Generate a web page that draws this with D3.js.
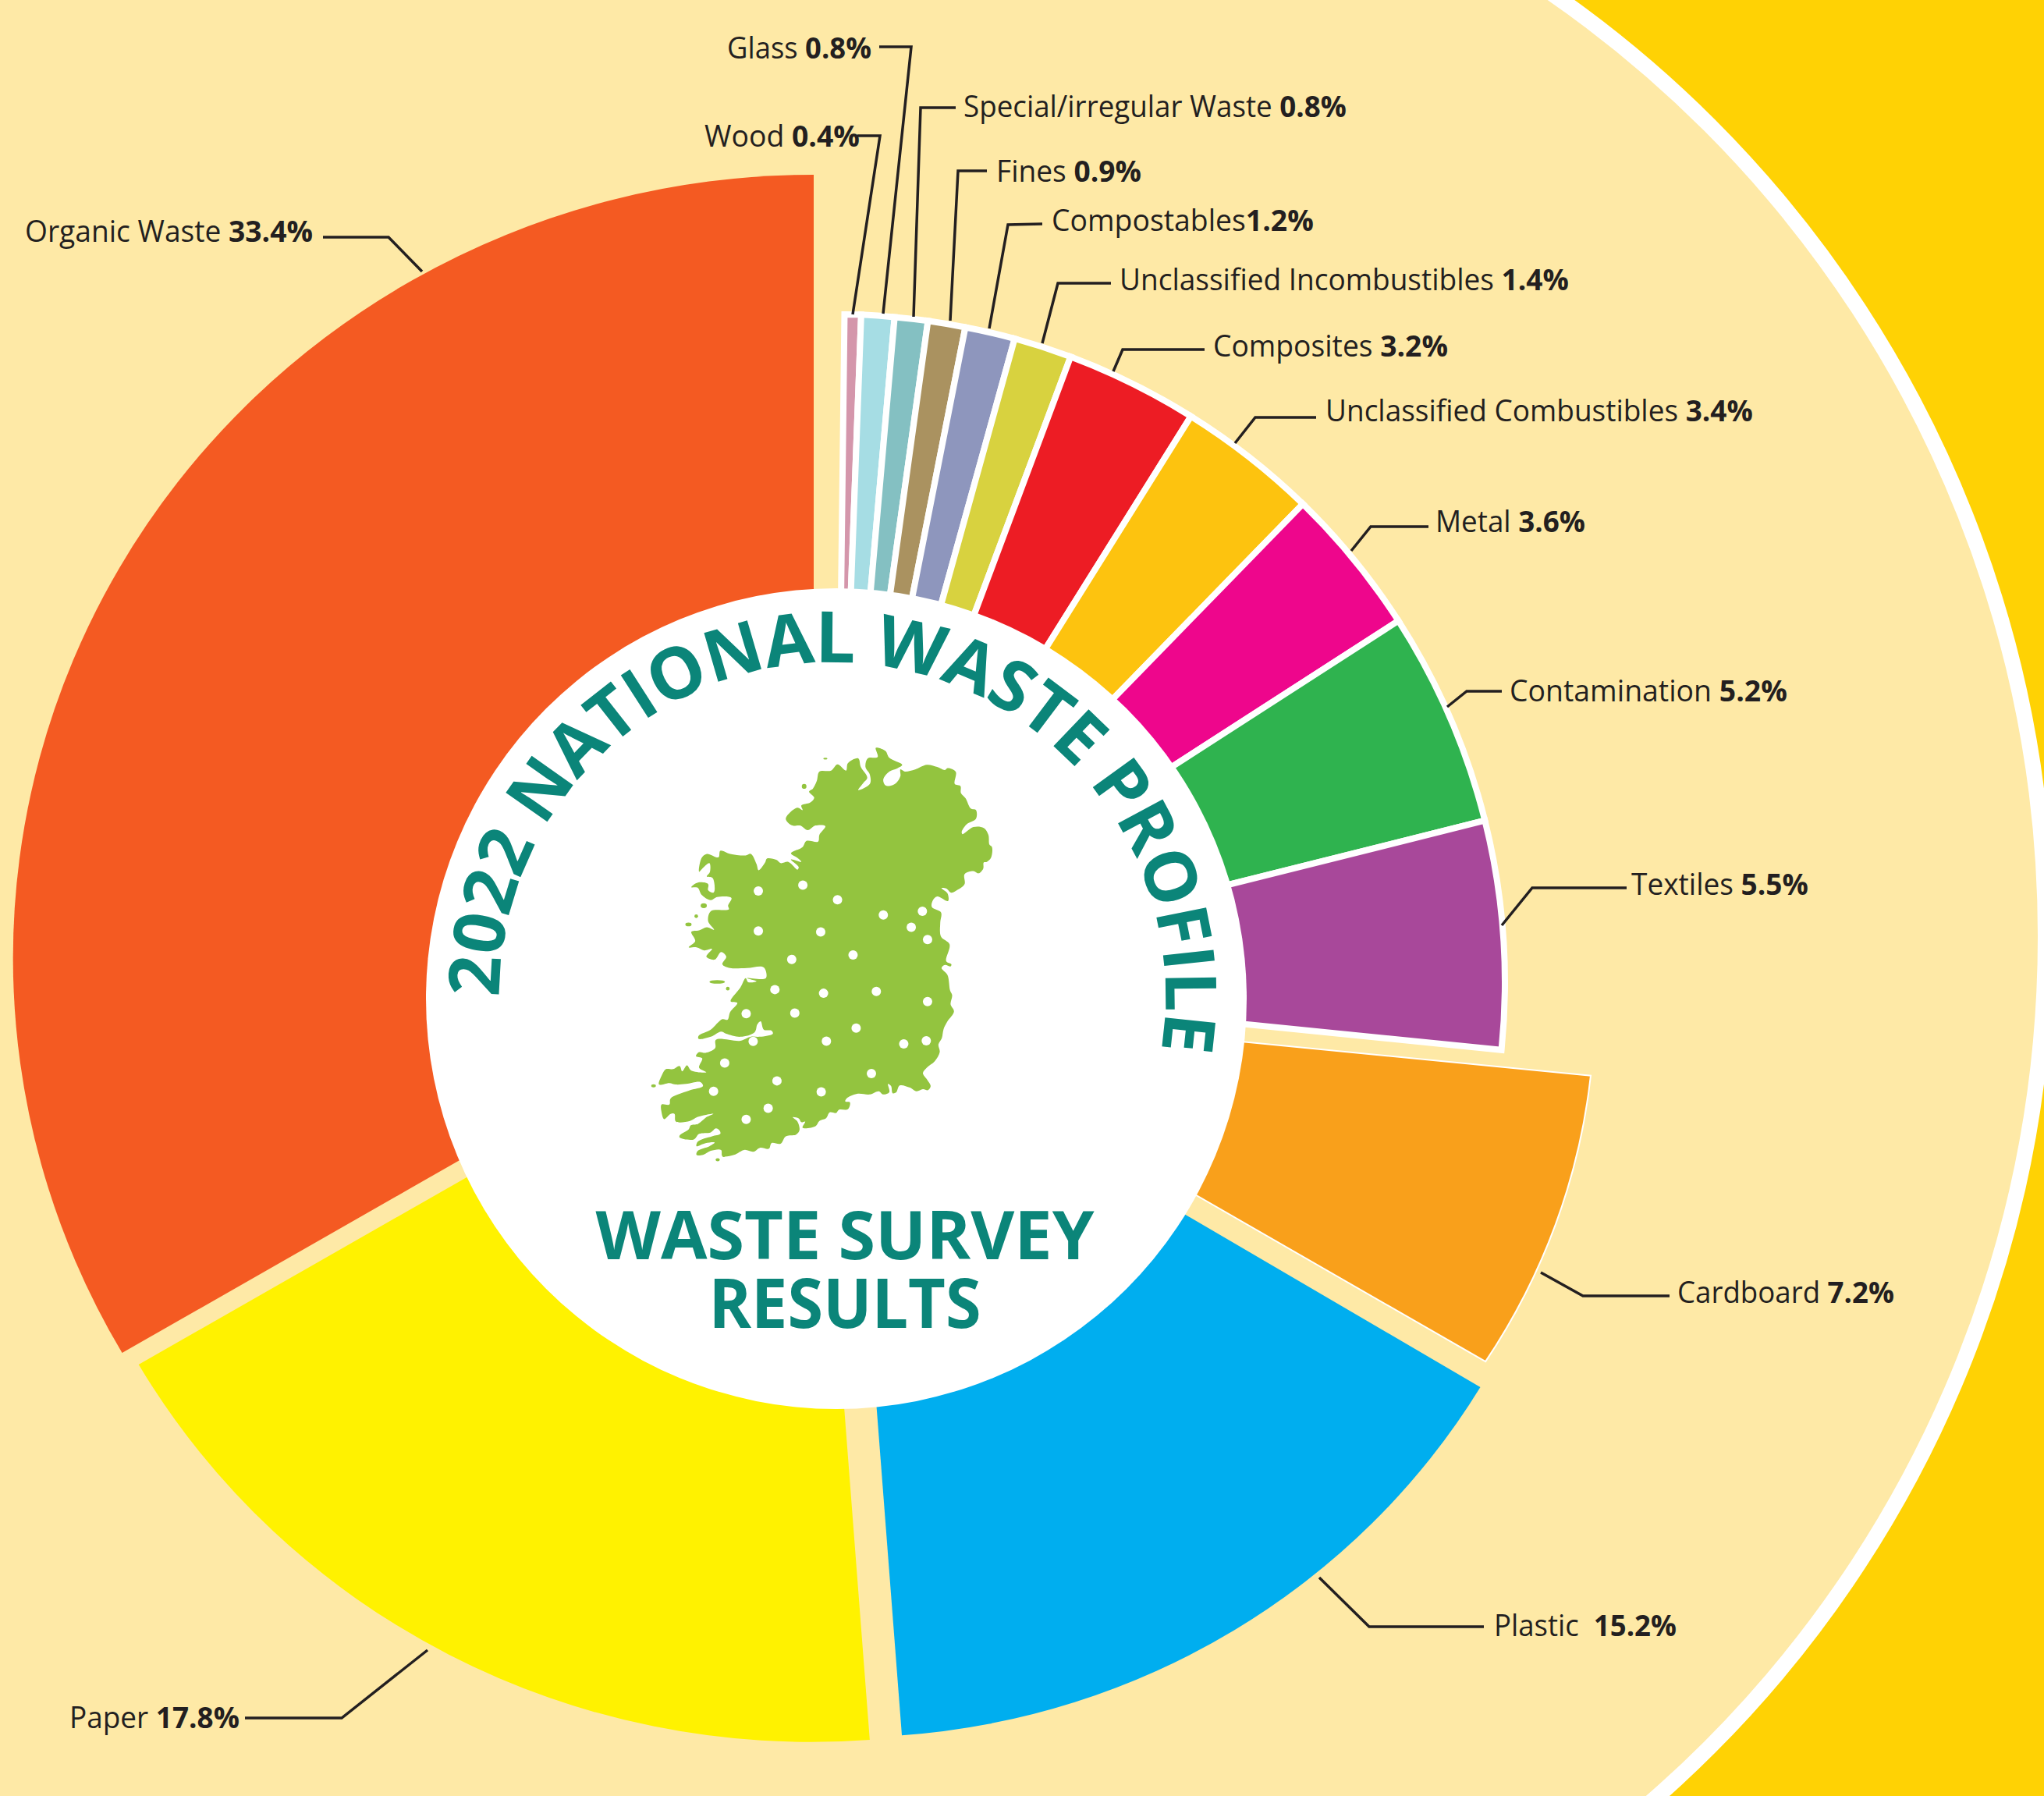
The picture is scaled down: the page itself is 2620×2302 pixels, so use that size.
<!DOCTYPE html>
<html>
<head>
<meta charset="utf-8">
<title>2022 National Waste Profile</title>
<script src="https://cdn.jsdelivr.net/npm/d3@7"></script>
<style>
  html, body { margin: 0; padding: 0; background: #FFD204; }
  svg { display: block; }
  .lbl { font-family: "Open Sans", sans-serif; fill: #231F20; white-space: pre; }
  .head { font-family: "Open Sans", sans-serif; font-weight: 700; fill: #0B8579; }
</style>
</head>
<body>
<svg width="2620" height="2302"></svg>
<script>
// clockwise from 12 o'clock, same order as the pie
var categories = ["Wood", "Glass", "Special/irregular Waste", "Fines", "Compostables",
    "Unclassified Incombustibles", "Composites", "Unclassified Combustibles", "Metal",
    "Contamination", "Textiles", "Cardboard", "Plastic", "Paper", "Organic Waste"];
var values = [0.4, 0.8, 0.8, 0.9, 1.2, 1.4, 3.2, 3.4, 3.6, 5.2, 5.5, 7.2, 15.2, 17.8, 33.4];
var colours = ["#D496AB", "#A6DDE4", "#84C0C2", "#AA9260", "#8E96BD", "#D8D23F", "#ED1C24",
    "#FDC30F", "#EE068C", "#2FB34F", "#A8489A", "#F9A01B", "#00AEEF", "#FFF200", "#F45A22"];
// text between name and value, the reference isn't consistent here
var separators = [" ", " ", " ", " ", "", " ", " ", " ", " ", " ", " ", " ", "  ", " ", " "];

// exploded slices: each of the 4 big ones has its own centre and radii,
// the artwork is a bit stretched so rx and ry differ
var sliceCx = [1072, 1072, 1072, 1072, 1072, 1072, 1072, 1072, 1072, 1072, 1072, 1109, 1085, 1040, 1043];
var sliceCy = [1260, 1260, 1260, 1260, 1260, 1260, 1260, 1260, 1260, 1260, 1260, 1288, 1303, 1257, 1228];
var sliceRx = [857, 857, 857, 857, 857, 857, 857, 857, 857, 857, 857, 935, 947, 998, 1026];
var sliceRy = [857, 857, 857, 857, 857, 857, 857, 857, 857, 857, 857, 865, 924, 976, 1004];
var sliceRot = [0.7, 0.7, 0.7, 0.7, 0.7, 0.7, 0.7, 0.7, 0.7, 0.7, 0.7, 0.9, 0, 0, 0];
var sliceStroke = [8, 8, 8, 8, 8, 8, 8, 8, 8, 8, 8, 2, 0, 0, 0];

// leader lines and label boxes, [x, y] in page pixels
var leaders = [
    [[1099, 174], [1128, 174], [1093, 403]],
    [[1127, 60], [1168, 60], [1132, 402]],
    [[1225, 138], [1180, 138], [1171, 406]],
    [[1265, 219], [1228, 219], [1218, 411]],
    [[1336, 287], [1292, 288], [1268, 421]],
    [[1424, 363], [1356, 363], [1336, 440]],
    [[1544, 448], [1439, 448], [1427, 476]],
    [[1687, 535], [1609, 535], [1583, 568]],
    [[1831, 675], [1757, 675], [1732, 706]],
    [[1925, 886], [1880, 886], [1855, 906]],
    [[2085, 1138], [1964, 1138], [1925, 1186]],
    [[2140, 1661], [2029, 1661], [1975, 1631]],
    [[1902, 2085], [1755, 2085], [1691, 2022]],
    [[314, 2202], [438, 2202], [548, 2115]],
    [[414, 304], [498, 304], [541, 348]]
];
var labelLeft = [903, 932, 1235, 1277, 1348, 1435, 1555, 1699, 1840, 1935, 2091, 2150, 1915, 89, 32];
var labelRight = [1102, 1117, 1726, 1463, 1684, 2011, 1856, 2247, 2032, 2291, 2318, 2428, 2149, 307, 401];
var labelBase = [188, 75, 150, 233, 296, 372, 457, 540, 682, 899, 1147, 1670, 2097, 2215, 310];

var ringTitle = "2022 NATIONAL WASTE PROFILE";
var subTitle = ["WASTE SURVEY", "RESULTS"];

// map of Ireland, traced in a 3.015 x 2.53 scaled space, see mapX/mapY
var irelandOutline = [
    [1033,148],[1070,158],[1085,180],[1135,203],[1115,215],[1085,225],[1062,250],[1068,268],[1085,272],[1112,262],[1128,240],[1128,218],
    [1145,225],[1185,218],[1230,203],[1270,210],[1300,220],[1310,214],[1342,226],[1338,265],[1360,272],[1362,295],[1380,312],[1400,345],
    [1420,350],[1420,378],[1385,395],[1365,420],[1368,428],[1410,405],[1450,408],[1468,430],[1472,462],[1482,470],[1478,505],[1462,518],
    [1450,520],[1448,540],[1430,555],[1410,548],[1376,558],[1376,590],[1350,608],[1325,618],[1305,604],[1287,603],[1310,620],[1312,645],
    [1270,630],[1252,645],[1250,665],[1285,682],[1282,715],[1285,760],[1318,785],[1305,840],[1325,850],[1322,857],[1300,852],[1287,862],
    [1310,885],[1320,935],[1328,950],[1322,980],[1335,1003],[1310,1035],[1295,1060],[1288,1090],[1275,1110],[1280,1135],[1260,1165],
    [1230,1185],[1215,1203],[1232,1225],[1245,1245],[1235,1258],[1215,1255],[1190,1262],[1165,1250],[1125,1243],[1112,1265],[1098,1268],
    [1092,1245],[1080,1238],[1085,1265],[1060,1272],[1045,1262],[1010,1272],[960,1270],[920,1285],[915,1295],[933,1298],[925,1320],
    [890,1322],[880,1332],[855,1330],[840,1350],[815,1358],[800,1375],[750,1380],[760,1360],[745,1362],[735,1350],[712,1346],[730,1360],
    [738,1388],[725,1402],[685,1408],[665,1432],[630,1430],[620,1448],[585,1445],[560,1458],[525,1452],[485,1468],[440,1472],[435,1452],
    [395,1455],[365,1468],[340,1468],[345,1455],[390,1440],[410,1428],[375,1430],[340,1440],[345,1425],[400,1408],[432,1400],[430,1390],
    [415,1382],[395,1395],[350,1400],[330,1418],[275,1412],[275,1405],[310,1385],[318,1372],[345,1368],[380,1345],[405,1335],[345,1345],
    [315,1358],[260,1360],[255,1335],[240,1335],[215,1352],[205,1330],[205,1305],[235,1305],[240,1285],[310,1260],[365,1245],[355,1232],
    [300,1238],[260,1240],[235,1235],[195,1240],[205,1212],[222,1190],[250,1190],[275,1180],[285,1197],[303,1178],[320,1195],[378,1200],
    [350,1185],[362,1155],[338,1148],[350,1135],[375,1137],[412,1122],[415,1095],[510,1098],[550,1085],[585,1085],[635,1075],[630,1065],
    [600,1062],[588,1035],[575,1045],[565,1070],[510,1085],[455,1075],[435,1068],[395,1085],[348,1092],[348,1082],[395,1062],[440,1028],
    [460,1030],[470,1005],[498,975],[472,970],[510,925],[530,895],[540,908],[572,905],[535,895],[608,895],[600,860],[535,862],[470,862],
    [440,850],[455,825],[435,810],[410,835],[378,825],[400,800],[370,805],[340,795],[310,795],[335,775],[320,745],[350,740],[380,730],
    [408,738],[385,710],[395,678],[465,672],[462,660],[475,635],[420,632],[395,642],[360,625],[345,602],[320,600],[345,585],[385,590],
    [385,610],[405,618],[410,610],[402,570],[380,565],[392,550],[390,522],[362,540],[350,550],[360,505],[380,492],[425,503],[432,482],
    [470,492],[530,497],[550,492],[572,525],[580,545],[605,520],[612,507],[650,512],[665,522],[695,518],[730,543],[735,535],[705,510],
    [745,518],[730,505],[705,490],[750,470],[765,450],[810,452],[815,430],[838,402],[800,400],[770,415],[740,400],[710,400],[685,378],
    [730,342],[750,350],[745,335],[780,325],[795,310],[775,290],[790,280],[805,255],[815,225],[860,222],[885,202],[918,222],[925,198],
    [965,182],[975,210],[1000,245],[985,262],[965,285],[1010,265],[1010,235],[993,210],[1002,182],[1040,178]
];
var irelandIslands = [[838,183,8,3],[756,273,9,8],[368,660,12,8],[339,694,7,6],[309,721,12,6],[461,929,7,6],[174,1244,9,5],[422,1484,8,5],[445,1472,5,3],[420,907,30,6]];
var irelandDots = [[579,612],[751,593],[885,641],[1062,690],[1213,678],[1170,730],[1233,770],[579,742],[820,745],[708,834],[945,820],
    [643,932],[831,944],[1035,938],[1233,971],[532,1010],[720,1008],[957,1057],[559,1100],[842,1099],[1141,1108],[1228,1098],[449,1170],
    [651,1228],[1016,1204],[406,1262],[822,1264],[617,1317],[532,1353]];

var svg = d3.select("svg");
var CREAM = "#FEE9A6", YELLOW = "#FFD204";

// background: yellow page, big cream disc with a white ring, left side is all cream
svg.append("rect").attr("width", 2620).attr("height", 2302).attr("fill", YELLOW);
svg.append("circle").attr("cx", 1152).attr("cy", 1200).attr("r", 1470)
    .attr("fill", CREAM).attr("stroke", "#fff").attr("stroke-width", 20);
svg.append("rect").attr("width", 1152).attr("height", 2302).attr("fill", CREAM);

// pie, sort(null) keeps the order of the arrays. Unit radius, the transform sizes it
var pie = d3.pie().sort(null).value(function(d) { return d; });
var arcs = pie(values);
var arc = d3.arc().innerRadius(0).outerRadius(1);

svg.append("g").selectAll("path")
    .data(arcs)
    .enter().append("path")
    .attr("transform", function(d, i) {
        return "translate(" + sliceCx[i] + "," + sliceCy[i] + ") rotate(" + sliceRot[i] + ") scale(" + sliceRx[i] + "," + sliceRy[i] + ")";
    })
    .attr("d", arc)
    .attr("fill", function(d, i) { return colours[i]; })
    .attr("stroke", "#fff")
    .attr("vector-effect", "non-scaling-stroke")
    .attr("stroke-width", function(d, i) { return sliceStroke[i]; })
    .attr("stroke-linejoin", "miter");

// white hub on top hides the slice apexes
svg.append("circle").attr("cx", 1072).attr("cy", 1280).attr("r", 526).attr("fill", "#fff");

// leader lines
var line = d3.line();
svg.append("g").selectAll("path")
    .data(leaders)
    .enter().append("path")
    .attr("d", function(d) { return line(d); })
    .attr("fill", "none")
    .attr("stroke", "#231F20")
    .attr("stroke-width", 3.5);

// labels: squeeze each one horizontally to its measured width in the reference
var lblG = svg.append("g");
categories.forEach(function(name, i) {
    var t = lblG.append("text").attr("class", "lbl").attr("font-size", 38);
    t.append("tspan").text(name + separators[i]);
    t.append("tspan").attr("font-weight", 700).text(values[i].toFixed(1) + "%");
    var sx = (labelRight[i] - labelLeft[i]) / t.node().getComputedTextLength();
    t.attr("transform", "translate(" + labelLeft[i] + "," + labelBase[i] + ") scale(" + sx + ",1)");
});

// curved title, letter-spacing picked so the text fills the angle range
var ringCx = 1067, ringCy = 1276, ringR = 427;
var startA = -Math.PI / 2 - 0.005, endA = 99.5 * Math.PI / 180;
var p = d3.path();
p.arc(ringCx, ringCy, ringR, startA - Math.PI / 2, startA - Math.PI / 2 + 1.9 * Math.PI);
svg.append("defs").append("path").attr("id", "ringPath").attr("d", p.toString());

var ring = svg.append("text").attr("class", "head").attr("font-size", 91);
ring.append("textPath").attr("href", "#ringPath").text(ringTitle);
var wanted = ringR * (endA - startA);
var natural = ring.node().getComputedTextLength();
ring.attr("letter-spacing", (wanted - natural) / (ringTitle.length - 1));

// straight sub title
var subMid = [1083, 1083], subWidth = [639, 349], subBase = [1614, 1702];
subTitle.forEach(function(s, i) {
    var t = svg.append("text").attr("class", "head").attr("font-size", 87)
        .attr("text-anchor", "middle").text(s);
    var sx = subWidth[i] / t.node().getComputedTextLength();
    t.attr("transform", "translate(" + subMid[i] + "," + subBase[i] + ") scale(" + sx + ",1)");
});

// map
function mapX(x) { return 780 + x / 3.015; }
function mapY(y) { return 900 + y / 2.53; }
var mapG = svg.append("g");
var outline = d3.line()
    .x(function(d) { return mapX(d[0]); })
    .y(function(d) { return mapY(d[1]); })
    .curve(d3.curveCatmullRomClosed.alpha(0.5));
mapG.append("path").attr("d", outline(irelandOutline)).attr("fill", "#93C43F");
mapG.selectAll("ellipse")
    .data(irelandIslands)
    .enter().append("ellipse")
    .attr("cx", function(d) { return mapX(d[0]); })
    .attr("cy", function(d) { return mapY(d[1]); })
    .attr("rx", function(d) { return d[2] / 3.015; })
    .attr("ry", function(d) { return d[3] / 2.53; })
    .attr("fill", "#93C43F");
mapG.selectAll("circle")
    .data(irelandDots)
    .enter().append("circle")
    .attr("cx", function(d) { return mapX(d[0]); })
    .attr("cy", function(d) { return mapY(d[1]); })
    .attr("r", 6)
    .attr("fill", "#fff");
</script>
</body>
</html>
